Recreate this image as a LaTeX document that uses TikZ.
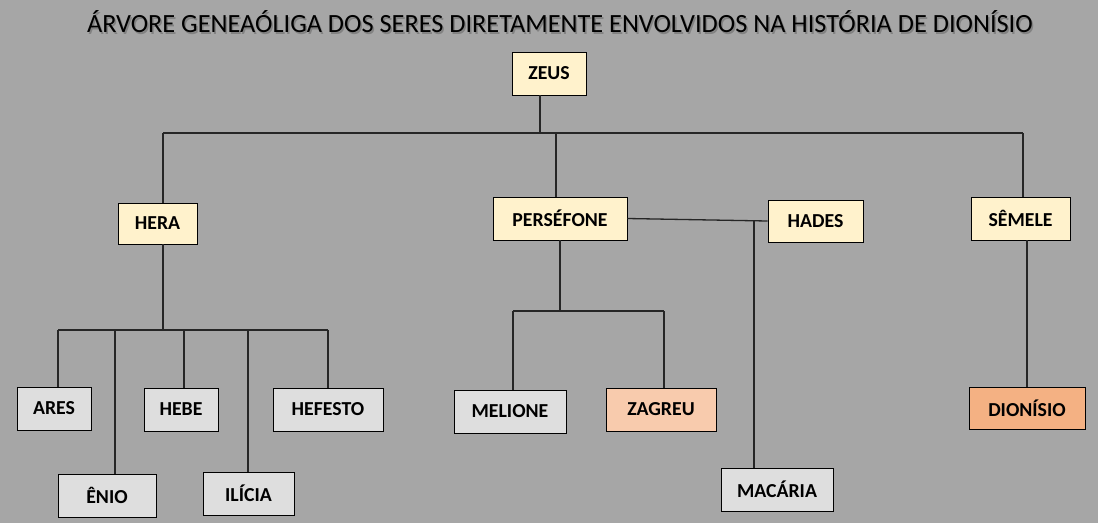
\documentclass[tikz,border=0pt]{standalone}
\usepackage{fontspec}
\setmainfont{Carlito}
\usepackage{xcolor}
\usepackage{tikz}
\definecolor{bggray}{HTML}{A6A6A6}
\definecolor{godfill}{HTML}{FFF2CC}
\definecolor{kidfill}{HTML}{DEDEDE}
\definecolor{zagfill}{HTML}{F8CBAD}
\definecolor{dionfill}{HTML}{F4B183}
\tikzset{
  godbox/.style={draw=black, line width=0.9pt, fill=godfill, inner sep=0pt,
    font=\bfseries\fontsize{19.8}{22}\selectfont},
  kidbox/.style={godbox, fill=kidfill},
  famline/.style={line width=1.3pt, draw=black!85, line cap=butt},
  titletext/.style={font=\fontsize{26.3}{28}\selectfont},
}

\begin{document}
\begin{tikzpicture}[x=1pt, y=-1pt]
\fill[bggray] (0,0) rectangle (1098,523);
\useasboundingbox (0,0) rectangle (1098,523);
% title with its shadow
\node[titletext, text=black!55, opacity=0.7] (titleshadow) at (561.5,23.5)
  {ÁRVORE GENEAÓLIGA DOS SERES DIRETAMENTE ENVOLVIDOS NA HISTÓRIA DE DIONÍSIO};
\node[titletext] (title) at (560,22)
  {ÁRVORE GENEAÓLIGA DOS SERES DIRETAMENTE ENVOLVIDOS NA HISTÓRIA DE DIONÍSIO};
% gods
\node[godbox, minimum width=74pt, minimum height=43pt] (zeus) at (549,73.5) {ZEUS};
\node[godbox, minimum width=79pt, minimum height=41pt] (hera) at (157.5,223.5) {HERA};
\node[godbox, minimum width=134pt, minimum height=43pt] (persefone) at (560,218.5) {PERSÉFONE};
\node[godbox, minimum width=95pt, minimum height=42pt] (hades) at (815.5,221) {HADES};
\node[godbox, minimum width=99pt, minimum height=43pt] (semele) at (1020.5,218.5) {SÊMELE};
% children
\node[kidbox, minimum width=74pt, minimum height=43pt] (ares) at (54,408.5) {ARES};
\node[kidbox, minimum width=98pt, minimum height=43pt] (enio) at (107,495.5) {ÊNIO};
\node[kidbox, minimum width=74pt, minimum height=43pt] (hebe) at (181,409.5) {HEBE};
\node[kidbox, minimum width=91pt, minimum height=43pt] (ilicia) at (248.5,493.5) {ILÍCIA};
\node[kidbox, minimum width=110pt, minimum height=43pt] (hefesto) at (328,409.5) {HEFESTO};
\node[kidbox, minimum width=112pt, minimum height=43pt] (melione) at (510,411.5) {MELIONE};
\node[kidbox, fill=zagfill, minimum width=110pt, minimum height=43pt] (zagreu) at (661,409.5) {ZAGREU};
\node[kidbox, minimum width=112pt, minimum height=43pt] (macaria) at (777,489.5) {MACÁRIA};
\node[kidbox, fill=dionfill, minimum width=116pt, minimum height=42pt] (dionisio) at (1027,408) {DIONÍSIO};
% zeus to his consorts
\coordinate (zeusj) at (540,133);
\coordinate (busl) at (163,133);
\coordinate (busr) at (1023,133);
\coordinate (persj) at (556,133);
\draw[famline] (busl) -- (busr);
\draw[famline] (zeus.south -| zeusj) -- (zeusj);
\draw[famline] (busl) -- (hera.north -| busl);
\draw[famline] (persj) -- (persefone.north -| persj);
\draw[famline] (busr) -- (semele.north -| busr);
% hera's children
\coordinate (heraj) at (163,330);
\draw[famline] (hera.south -| heraj) -- (heraj);
\foreach \n/\x in {ares/58,enio/115,hebe/184,ilicia/248,hefesto/328}{
  \coordinate (\n-j) at (\x,330);
  \draw[famline] (\n-j) -- (\n-j |- \n.north);
}
\draw[famline] (ares-j) -- (hefesto-j);
% persefone and hades
\draw[famline] (persefone.east) -- (hades.west);
\coordinate (hadesj) at (754,220.5);
\draw[famline] (hadesj) -- (macaria.north -| hadesj);
\coordinate (persk) at (560,311);
\draw[famline] (persefone.south -| persk) -- (persk);
\foreach \n/\x in {melione/513,zagreu/664}{
  \coordinate (\n-j) at (\x,311);
  \draw[famline] (\n-j) -- (\n-j |- \n.north);
}
\draw[famline] (melione-j) -- (zagreu-j);
% semele
\coordinate (semk) at (1027,300);
\draw[famline] (semele.south -| semk) -- (dionisio.north -| semk);
\end{tikzpicture}
\end{document}
